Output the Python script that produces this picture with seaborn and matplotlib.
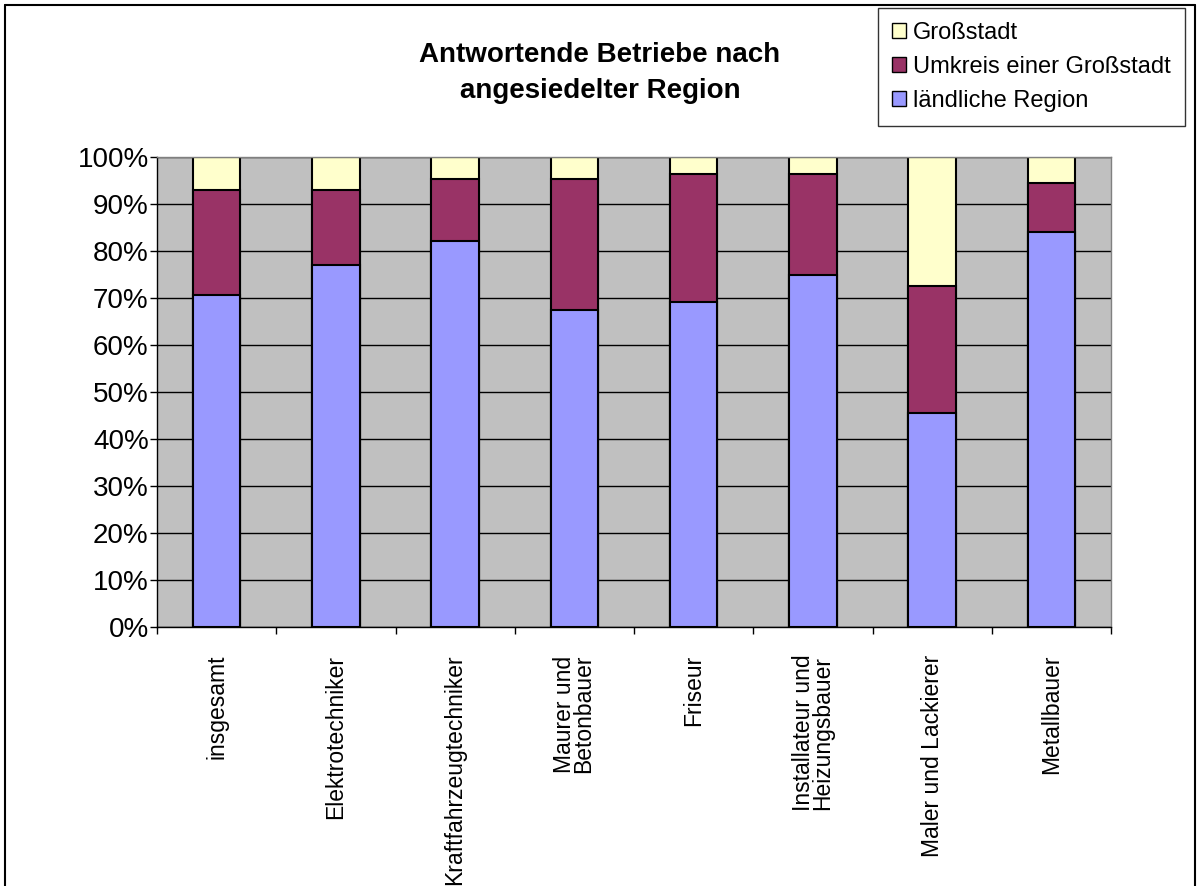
import numpy as np
import pandas as pd
import seaborn as sns
import matplotlib.pyplot as plt
from matplotlib.ticker import PercentFormatter
from matplotlib.patches import Patch
from matplotlib.lines import Line2D

berufe = ["insgesamt", "Elektrotechniker", "Kraftfahrzeugtechniker",
          "Maurer und\nBetonbauer", "Friseur", "Installateur und\nHeizungsbauer",
          "Maler und Lackierer", "Metallbauer"]
laendlich = [70.6, 77.1, 82.2, 67.5, 69.1, 74.8, 45.6, 84.1]
umkreis = [22.4, 15.9, 13.1, 27.8, 27.3, 21.6, 27.0, 10.4]
grossstadt = [7.0, 7.0, 4.7, 4.7, 3.6, 3.6, 27.4, 5.5]

serien = ["Großstadt", "Umkreis einer Großstadt", "ländliche Region"]
farben = {"Großstadt": "#FFFFCC", "Umkreis einer Großstadt": "#993366",
          "ländliche Region": "#9999FF"}

df = pd.DataFrame({"beruf": berufe, "laendlich": laendlich,
                   "umkreis": umkreis, "gross": grossstadt})
df["c1"] = df["laendlich"]
df["c2"] = df["c1"] + df["umkreis"]
df["c3"] = df["c2"] + df["gross"]

sns.set_theme(style="ticks")
plt.rcParams["font.family"] = ["Liberation Sans", "DejaVu Sans"]
plt.rcParams["text.color"] = "black"
plt.rcParams["xtick.color"] = "black"
plt.rcParams["ytick.color"] = "black"

fig = plt.figure(figsize=(12, 8.86), dpi=100)
ax = fig.add_axes([157/1200, 1-627/886, (1111-157)/1200, (627-157)/886])
ax.set_facecolor("#C0C0C0")

for col, name in [("c3", "Großstadt"), ("c2", "Umkreis einer Großstadt"),
                  ("c1", "ländliche Region")]:
    sns.barplot(data=df, x="beruf", y=col, color=farben[name], saturation=1,
                width=0.4, edgecolor="black", linewidth=1.5, errorbar=None, ax=ax)

ax.set_ylim(0, 100)
ax.set_xlim(-0.5, len(berufe) - 0.5)
ax.set_yticks(np.arange(0, 101, 10))
ax.yaxis.set_major_formatter(PercentFormatter(decimals=0))
ax.yaxis.grid(True, color="black", lw=1)
ax.set_axisbelow(True)
ax.set_xlabel("")
ax.set_ylabel("")

ax.set_xticks(range(len(berufe)))
ax.set_xticklabels(berufe, rotation=90, va="top", ha="center", linespacing=0.78)
ax.set_xticks(np.arange(-0.5, len(berufe), 1), minor=True)
ax.tick_params(axis="x", which="major", length=0, pad=20, labelsize=16.5,
               labelcolor="black")
ax.tick_params(axis="x", which="minor", length=5, width=1, color="black")
ax.tick_params(axis="y", length=5, width=1, color="black", pad=1, labelsize=20,
               labelcolor="black")

for s in ["left", "bottom"]:
    ax.spines[s].set_color("black")
    ax.spines[s].set_linewidth(1)
for s in ["top", "right"]:
    ax.spines[s].set_color("#808080")
    ax.spines[s].set_linewidth(1)

fig.text(0.5, 1-73/886, "Antwortende Betriebe nach\nangesiedelter Region",
         ha="center", va="center", fontsize=20, fontweight="bold",
         linespacing=1.45, color="black")

handles = [Patch(facecolor=farben[n], edgecolor="black", linewidth=1) for n in serien]
leg = fig.legend(handles, serien, loc="upper right",
                 bbox_to_anchor=(1185/1200, 1-8/886), fontsize=17,
                 frameon=True, fancybox=False, edgecolor="black",
                 handlelength=0.6, handleheight=0.6, handletextpad=0.3,
                 labelspacing=0.5, borderpad=0.6, borderaxespad=0)
leg.get_frame().set_linewidth(1)

# outer border of the chart area
for xs, ys in [([5/1200, 5/1200], [0, 1-5/886]), ([1195/1200, 1195/1200], [0, 1-5/886]),
               ([5/1200, 1195/1200], [1-5/886, 1-5/886])]:
    fig.add_artist(Line2D(xs, ys, color="black", lw=1.5, transform=fig.transFigure))

fig.savefig("out.png", dpi=100)
